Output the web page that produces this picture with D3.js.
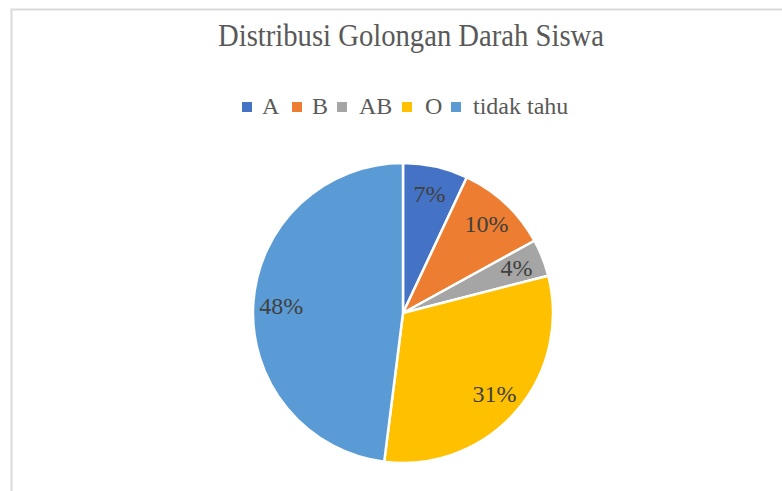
<!DOCTYPE html>
<html>
<head>
<meta charset="utf-8">
<script src="https://cdn.jsdelivr.net/npm/d3@7"></script>
<style>
html,body{margin:0;padding:0;background:#fff;}
svg{display:block;}
svg text{font-family:"Liberation Serif","Times New Roman",serif;}
</style>
</head>
<body>
<svg id="chart" width="782" height="491"></svg>
<script>
const categories = ["A", "B", "AB", "O", "tidak tahu"];
const values = [7, 10, 4, 31, 48];
const labels = ["7%", "10%", "4%", "31%", "48%"];
const colors = ["#4472C4", "#ED7D31", "#A5A5A5", "#FFC000", "#5B9BD5"];
const title = "Distribusi Golongan Darah Siswa";

const svg = d3.select("#chart");

// chart area border
svg.append("path")
  .attr("d", "M11.5,491 L11.5,9.5 L782,9.5")
  .attr("fill", "none")
  .attr("stroke", "#d9d9d9")
  .attr("stroke-width", 2);

// title
svg.append("text")
  .attr("x", 218).attr("y", 46)
  .style("font-size", "31px")
  .attr("fill", "#595959")
  .attr("textLength", 386)
  .attr("lengthAdjust", "spacingAndGlyphs")
  .text(title);

// legend
const legX = [242, 292, 337, 402, 451];
const legTextX = [262, 312, 359, 425, 473];
const leg = svg.append("g");
categories.forEach((c, i) => {
  leg.append("rect")
    .attr("x", legX[i]).attr("y", 102)
    .attr("width", 10).attr("height", 10)
    .attr("fill", colors[i]);
  leg.append("text")
    .attr("x", legTextX[i]).attr("y", 114)
    .style("font-size", "24px")
    .attr("fill", "#595959")
    .text(c);
});

// pie
const cx = 403, cy = 313, r = 150;
const pie = d3.pie().sort(null).value(d => d)(values);
const arc = d3.arc().innerRadius(0).outerRadius(r);
const labelArc = d3.arc().innerRadius(122).outerRadius(122);
const g = svg.append("g").attr("transform", `translate(${cx},${cy})`);
g.selectAll("path.slice").data(pie).enter().append("path")
  .attr("class", "slice")
  .attr("d", arc)
  .attr("fill", (d, i) => colors[i])
  .attr("stroke", "#fff")
  .attr("stroke-width", 2.5)
  .attr("stroke-linejoin", "round");

g.selectAll("text.lbl").data(pie).enter().append("text")
  .attr("class", "lbl")
  .attr("transform", d => `translate(${labelArc.centroid(d)})`)
  .attr("text-anchor", "middle")
  .attr("dy", "0.35em")
  .style("font-size", "24px")
  .attr("fill", "#404040")
  .text((d, i) => labels[i]);
</script>
</body>
</html>
